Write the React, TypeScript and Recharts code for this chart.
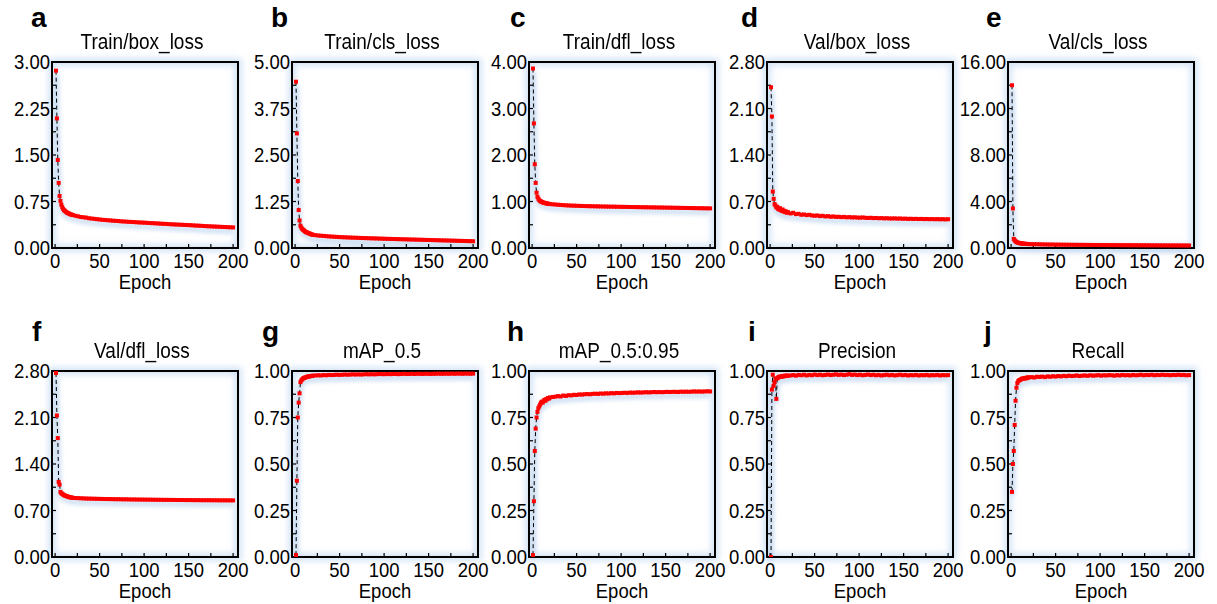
import { LineChart, Line, XAxis, YAxis, ReferenceArea } from 'recharts'

// epochs that carry a marker (every epoch early on, then every third)
const EPOCHS = [
  1, 2, 3, 4, 5, 6, 7, 8, 9, 10, 11, 12, 13, 14, 15, 16, 17, 18, 19, 20,
  23, 26, 29, 32, 35, 38, 41, 44, 47, 50,
  53, 56, 59, 62, 65, 68, 71, 74, 77, 80,
  83, 86, 89, 92, 95, 98, 101, 104, 107, 110,
  113, 116, 119, 122, 125, 128, 131, 134, 137, 140,
  143, 146, 149, 152, 155, 158, 161, 164, 167, 170,
  173, 176, 179, 182, 185, 188, 191, 194, 197, 200,
]

const TRAIN_BOX = [
  2.86, 2.09, 1.42, 1.05, 0.84, 0.76, 0.7, 0.66, 0.63, 0.61,
  0.6, 0.585, 0.575, 0.565, 0.56, 0.55, 0.545, 0.54, 0.535, 0.53,
  0.52, 0.51, 0.5, 0.495, 0.49, 0.48, 0.475, 0.47, 0.465, 0.46,
  0.455, 0.452, 0.448, 0.445, 0.44, 0.438, 0.435, 0.43, 0.428, 0.425,
  0.422, 0.42, 0.418, 0.415, 0.412, 0.41, 0.408, 0.405, 0.402, 0.4,
  0.398, 0.395, 0.392, 0.39, 0.388, 0.385, 0.382, 0.38, 0.378, 0.376,
  0.374, 0.372, 0.37, 0.368, 0.365, 0.362, 0.36, 0.358, 0.355, 0.352,
  0.35, 0.348, 0.346, 0.344, 0.342, 0.34, 0.338, 0.336, 0.334, 0.332,
]

const TRAIN_CLS = [
  4.47, 3.08, 1.8, 1.02, 0.74, 0.6, 0.55, 0.51, 0.49, 0.47,
  0.45, 0.43, 0.42, 0.41, 0.4, 0.39, 0.38, 0.37, 0.36, 0.355,
  0.345, 0.335, 0.33, 0.325, 0.318, 0.312, 0.307, 0.302, 0.298, 0.294,
  0.29, 0.287, 0.284, 0.281, 0.278, 0.276, 0.273, 0.27, 0.268, 0.265,
  0.263, 0.26, 0.258, 0.256, 0.253, 0.25, 0.248, 0.246, 0.244, 0.242,
  0.24, 0.238, 0.236, 0.234, 0.232, 0.23, 0.228, 0.226, 0.224, 0.222,
  0.22, 0.218, 0.216, 0.214, 0.212, 0.21, 0.208, 0.206, 0.204, 0.202,
  0.2, 0.198, 0.196, 0.194, 0.192, 0.19, 0.188, 0.186, 0.184, 0.182,
]

const TRAIN_DFL = [
  3.86, 2.68, 1.8, 1.4, 1.19, 1.1, 1.06, 1.03, 1.01, 1.0,
  0.99, 0.98, 0.975, 0.97, 0.965, 0.96, 0.955, 0.95, 0.948, 0.945,
  0.94, 0.935, 0.93, 0.926, 0.922, 0.918, 0.915, 0.912, 0.91, 0.908,
  0.906, 0.904, 0.902, 0.9, 0.899, 0.898, 0.896, 0.895, 0.894, 0.892,
  0.891, 0.89, 0.889, 0.888, 0.887, 0.886, 0.885, 0.884, 0.883, 0.882,
  0.881, 0.88, 0.879, 0.878, 0.877, 0.876, 0.875, 0.874, 0.873, 0.872,
  0.871, 0.87, 0.869, 0.868, 0.867, 0.866, 0.865, 0.864, 0.863, 0.862,
  0.861, 0.86, 0.859, 0.858, 0.857, 0.856, 0.855, 0.854, 0.853, 0.852,
]

const VAL_BOX = [
  2.42, 1.98, 0.85, 0.74, 0.66, 0.64, 0.61, 0.62, 0.59, 0.58,
  0.6, 0.57, 0.56, 0.58, 0.55, 0.56, 0.54, 0.55, 0.53, 0.54,
  0.52, 0.53, 0.51, 0.515, 0.5, 0.505, 0.495, 0.5, 0.49, 0.485,
  0.49, 0.48, 0.485, 0.475, 0.48, 0.47, 0.475, 0.468, 0.47, 0.465,
  0.468, 0.462, 0.465, 0.46, 0.462, 0.458, 0.456, 0.46, 0.455, 0.452,
  0.455, 0.45, 0.452, 0.448, 0.45, 0.446, 0.448, 0.445, 0.444, 0.446,
  0.442, 0.444, 0.44, 0.442, 0.438, 0.44, 0.437, 0.439, 0.436, 0.438,
  0.435, 0.437, 0.434, 0.436, 0.433, 0.435, 0.432, 0.434, 0.431, 0.433,
]

const VAL_CLS = [
  14.0, 3.4, 0.78, 0.66, 0.58, 0.52, 0.48, 0.45, 0.43, 0.41,
  0.4, 0.39, 0.38, 0.37, 0.36, 0.355, 0.35, 0.345, 0.34, 0.335,
  0.33, 0.325, 0.32, 0.315, 0.31, 0.305, 0.3, 0.298, 0.295, 0.29,
  0.288, 0.285, 0.283, 0.28, 0.278, 0.276, 0.274, 0.272, 0.27, 0.268,
  0.266, 0.264, 0.262, 0.26, 0.258, 0.256, 0.255, 0.254, 0.252, 0.25,
  0.249, 0.248, 0.246, 0.245, 0.244, 0.242, 0.241, 0.24, 0.238, 0.237,
  0.236, 0.235, 0.234, 0.232, 0.231, 0.23, 0.229, 0.228, 0.227, 0.226,
  0.225, 0.224, 0.223, 0.222, 0.221, 0.22, 0.219, 0.218, 0.217, 0.216,
]

const VAL_DFL = [
  2.77, 2.13, 1.79, 1.13, 1.09, 0.98, 0.96, 0.95, 0.94, 0.93,
  0.925, 0.92, 0.915, 0.91, 0.905, 0.9, 0.9, 0.895, 0.893, 0.89,
  0.888, 0.886, 0.884, 0.882, 0.88, 0.879, 0.878, 0.877, 0.876, 0.875,
  0.874, 0.873, 0.872, 0.872, 0.871, 0.87, 0.87, 0.869, 0.868, 0.868,
  0.867, 0.866, 0.866, 0.865, 0.865, 0.864, 0.864, 0.863, 0.863, 0.862,
  0.862, 0.861, 0.861, 0.86, 0.86, 0.86, 0.859, 0.859, 0.858, 0.858,
  0.858, 0.857, 0.857, 0.857, 0.856, 0.856, 0.856, 0.855, 0.855, 0.855,
  0.855, 0.854, 0.854, 0.854, 0.853, 0.853, 0.853, 0.853, 0.852, 0.852,
]

const MAP50 = [
  0.01, 0.41, 0.75, 0.83, 0.88, 0.94, 0.95, 0.955, 0.96, 0.962,
  0.965, 0.966, 0.968, 0.97, 0.97, 0.972, 0.972, 0.973, 0.974, 0.975,
  0.976, 0.977, 0.976, 0.978, 0.977, 0.979, 0.978, 0.979, 0.98, 0.979,
  0.98, 0.981, 0.98, 0.981, 0.982, 0.981, 0.982, 0.981, 0.982, 0.983,
  0.982, 0.983, 0.982, 0.983, 0.984, 0.983, 0.983, 0.984, 0.983, 0.984,
  0.984, 0.983, 0.984, 0.985, 0.984, 0.984, 0.985, 0.984, 0.985, 0.985,
  0.984, 0.985, 0.985, 0.984, 0.985, 0.985, 0.986, 0.985, 0.985, 0.986,
  0.985, 0.986, 0.985, 0.986, 0.986, 0.985, 0.986, 0.986, 0.985, 0.986,
]

const MAP50_95 = [
  0.01, 0.3, 0.57, 0.69, 0.75, 0.78, 0.8, 0.81, 0.82, 0.83,
  0.835, 0.83, 0.84, 0.845, 0.84, 0.85, 0.848, 0.855, 0.852, 0.858,
  0.86, 0.862, 0.865, 0.863, 0.868, 0.866, 0.87, 0.869, 0.872, 0.871,
  0.874, 0.873, 0.875, 0.876, 0.875, 0.877, 0.878, 0.877, 0.879, 0.878,
  0.88, 0.879, 0.881, 0.88, 0.882, 0.881, 0.882, 0.883, 0.882, 0.884,
  0.883, 0.884, 0.885, 0.884, 0.885, 0.886, 0.885, 0.886, 0.887, 0.886,
  0.887, 0.886, 0.887, 0.888, 0.887, 0.888, 0.888, 0.887, 0.889, 0.888,
  0.889, 0.888, 0.889, 0.89, 0.889, 0.89, 0.889, 0.89, 0.891, 0.89,
]

const PRECISION = [
  0.0, 0.9, 0.98, 0.92, 0.94, 0.96, 0.85, 0.96, 0.965, 0.968,
  0.97, 0.968, 0.972, 0.97, 0.974, 0.972, 0.975, 0.973, 0.976, 0.974,
  0.976, 0.978, 0.975, 0.979, 0.977, 0.98, 0.976, 0.979, 0.977, 0.981,
  0.978, 0.98, 0.977, 0.979, 0.981, 0.978, 0.98, 0.982, 0.979, 0.981,
  0.978, 0.98, 0.983, 0.979, 0.981, 0.978, 0.98, 0.977, 0.979, 0.981,
  0.978, 0.98, 0.977, 0.979, 0.976, 0.978, 0.98, 0.977, 0.979, 0.976,
  0.978, 0.98, 0.977, 0.979, 0.976, 0.978, 0.977, 0.979, 0.976, 0.978,
  0.977, 0.979, 0.976, 0.978, 0.977, 0.979, 0.976, 0.978, 0.977, 0.978,
]

const RECALL = [
  0.35, 0.5, 0.57, 0.71, 0.84, 0.91, 0.935, 0.945, 0.95, 0.952,
  0.955, 0.958, 0.96, 0.958, 0.962, 0.963, 0.96, 0.965, 0.964, 0.966,
  0.967, 0.965, 0.969, 0.968, 0.97, 0.967, 0.971, 0.969, 0.972, 0.97,
  0.973, 0.971, 0.974, 0.972, 0.975, 0.973, 0.974, 0.976, 0.973, 0.975,
  0.976, 0.974, 0.977, 0.975, 0.976, 0.978, 0.975, 0.977, 0.976, 0.978,
  0.977, 0.975, 0.978, 0.976, 0.979, 0.977, 0.978, 0.976, 0.979, 0.977,
  0.978, 0.98, 0.977, 0.979, 0.978, 0.98, 0.977, 0.979, 0.978, 0.98,
  0.978, 0.979, 0.977, 0.979, 0.978, 0.98, 0.978, 0.979, 0.977, 0.978,
]

const SERIES = [TRAIN_BOX, TRAIN_CLS, TRAIN_DFL, VAL_BOX, VAL_CLS, VAL_DFL, MAP50, MAP50_95, PRECISION, RECALL]
const TITLES = [
  'Train/box_loss', 'Train/cls_loss', 'Train/dfl_loss', 'Val/box_loss', 'Val/cls_loss',
  'Val/dfl_loss', 'mAP_0.5', 'mAP_0.5:0.95', 'Precision', 'Recall',
]
const LETTERS = ['a', 'b', 'c', 'd', 'e', 'f', 'g', 'h', 'i', 'j']
const Y_MAX = [3, 5, 4, 2.8, 16, 2.8, 1, 1, 1, 1]
const X_TICKS = [0, 25, 50, 75, 100, 125, 150, 175, 200]
const X_DOMAIN: [number, number] = [-3.5, 205.5]

// layout
const COL_LEFT = [52, 292, 529, 767, 1008]
const ROW_TOP = [62, 371]
const LETTER_LEFT = [
  [31, 271, 510, 741, 986],
  [32, 262, 507, 748, 984],
]
const LETTER_TOP = [4, 318]
const PW = 186
const PH = 186
const YW = 50
const XH = 46
const MT = 14
const MR = 14
const FONT = '"Liberation Sans", Arial, sans-serif'

const css = `
.recharts-text { transform-box: fill-box; transform-origin: center; transform: scaleY(1.12); }
.stretch { transform: scaleY(1.12); transform-origin: center; }
.glow { filter: blur(3px); }
.shade { filter: blur(2px); transform: translateY(4px); opacity: 0.75; }
`

const squareDot = (p: any) => (
  <rect key={`d${p.index}`} x={p.cx - 2} y={p.cy - 2} width={4} height={4} fill="#ff0000" />
)

function Panel({ i }: { i: number }) {
  const row = Math.floor(i / 5)
  const col = i % 5
  const left = COL_LEFT[col]
  const top = ROW_TOP[row]
  const yMax = Y_MAX[i]
  const yTicks = [0, 1, 2, 3, 4, 5, 6, 7, 8].map((k) => (yMax * k) / 8)
  const data = EPOCHS.map((epoch, j) => ({ epoch, value: SERIES[i][j] }))
  const tickStyle = { fill: '#000', fontSize: 18.5, fontFamily: FONT }

  return (
    <>
      <div
        style={{
          position: 'absolute', left: LETTER_LEFT[row][col], top: LETTER_TOP[row],
          fontSize: 28, fontWeight: 'bold', lineHeight: 1, fontFamily: FONT,
        }}
      >
        {LETTERS[i]}
      </div>
      <div
        className="stretch"
        style={{
          position: 'absolute', left: left - 23, width: PW + 40, top: top - 30,
          textAlign: 'center', fontSize: 19, lineHeight: 1, fontFamily: FONT,
        }}
      >
        {TITLES[i]}
      </div>
      <div style={{ position: 'absolute', left: left - YW, top: top - MT }}>
        <LineChart
          width={YW + PW + MR}
          height={MT + PH + XH}
          data={data}
          margin={{ top: MT, right: MR, bottom: 0, left: 0 }}
        >
          <ReferenceArea
            x1={X_DOMAIN[0]} x2={X_DOMAIN[1]} y1={0} y2={yMax}
            fill="none" stroke="#cfe0f3" strokeWidth={7} className="glow" ifOverflow="visible"
          />
          <XAxis
            dataKey="epoch"
            type="number"
            domain={X_DOMAIN}
            allowDataOverflow
            ticks={X_TICKS}
            interval={0}
            tickFormatter={(v: number, k: number) => (k % 2 === 0 ? String(v) : '')}
            tickSize={-4}
            tickMargin={10}
            tick={tickStyle}
            axisLine={{ stroke: '#000', strokeWidth: 2 }}
            tickLine={{ stroke: '#000', strokeWidth: 1.2 }}
            height={XH}
            label={{
              value: 'Epoch', position: 'insideBottom', offset: 6,
              fill: '#000', fontSize: 18.5, fontFamily: FONT,
            }}
          />
          <YAxis
            type="number"
            domain={[0, yMax]}
            allowDataOverflow
            ticks={yTicks}
            interval={0}
            tickFormatter={(v: number, k: number) => (k % 2 === 0 ? v.toFixed(2) : '')}
            tickSize={-4}
            tickMargin={6}
            tick={tickStyle}
            axisLine={{ stroke: '#000', strokeWidth: 2 }}
            tickLine={{ stroke: '#000', strokeWidth: 1.2 }}
            width={YW}
          />
          <Line
            dataKey="value" stroke="#bcd3ee" strokeWidth={5} dot={false}
            className="shade" isAnimationActive={false}
          />
          <Line
            dataKey="value" stroke="#000" strokeWidth={1} strokeDasharray="4 3"
            dot={squareDot} isAnimationActive={false}
          />
          <ReferenceArea
            x1={X_DOMAIN[0]} x2={X_DOMAIN[1]} y1={0} y2={yMax}
            fill="none" stroke="#000" strokeWidth={2} ifOverflow="visible"
          />
        </LineChart>
      </div>
    </>
  )
}

export default function App() {
  return (
    <div
      style={{
        position: 'absolute', left: 0, top: 0, width: 1217, height: 604,
        background: '#fff', overflow: 'hidden', fontFamily: FONT,
      }}
    >
      <style>{css}</style>
      {SERIES.map((_, i) => (
        <Panel key={i} i={i} />
      ))}
    </div>
  )
}
